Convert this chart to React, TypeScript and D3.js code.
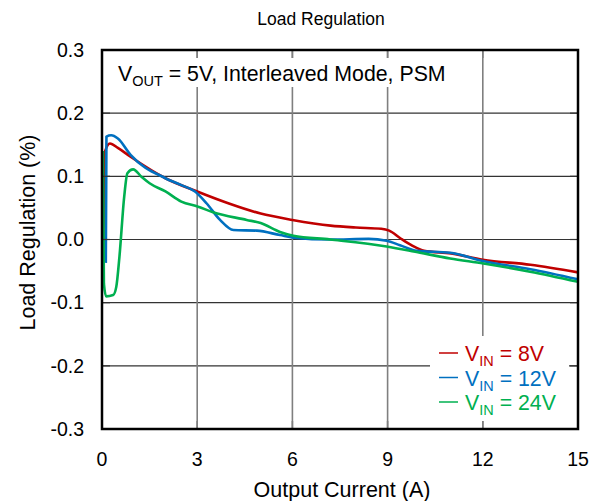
import React from "react";
import * as d3 from "d3";

const xTicks = [0, 3, 6, 9, 12, 15];
const yTicks = [0.3, 0.2, 0.1, 0.0, -0.1, -0.2, -0.3];
const yTickLabels = ["0.3", "0.2", "0.1", "0.0", "-0.1", "-0.2", "-0.3"];

const vin8: [number, number][] = [
  [0.03, -0.07], [0.1, 0.14], [0.25, 0.152], [0.5, 0.145], [0.9, 0.131], [2.0, 0.097],
  [3.0, 0.076], [4.0, 0.057], [5.0, 0.041], [6.0, 0.031], [7.2, 0.022], [8.0, 0.019],
  [8.8, 0.017], [9.05, 0.014], [9.4, 0.002], [9.75, -0.009], [10.15, -0.018], [11.0, -0.022],
  [12.0, -0.032], [13.5, -0.040], [15.0, -0.052],
];
const vin12: [number, number][] = [
  [0.12, -0.037], [0.14, 0.163], [0.29, 0.165], [0.5, 0.16], [0.9, 0.134], [2.0, 0.097],
  [2.5, 0.086], [2.93, 0.076], [3.3, 0.057], [3.72, 0.031], [4.14, 0.015], [4.88, 0.014], [5.61, 0.007],
  [6.03, 0.003], [7.2, 0.0], [8.4, 0.001], [8.97, -0.002], [9.39, -0.009], [9.92, -0.018],
  [10.97, -0.021], [12.0, -0.034], [13.5, -0.047], [15.0, -0.063],
];
const vin24: [number, number][] = [
  [0.03, 0.14], [0.06, -0.07], [0.13, -0.09], [0.35, -0.088], [0.45, -0.075], [0.55, -0.027],
  [0.7, 0.068], [0.8, 0.105], [0.98, 0.111], [1.25, 0.099], [1.5, 0.089], [2.0, 0.076],
  [2.5, 0.06], [3.03, 0.052], [3.5, 0.043], [4.56, 0.031], [5.0, 0.026], [5.61, 0.012],
  [6.03, 0.006], [7.19, 0.0], [8.97, -0.011], [10.02, -0.021], [10.97, -0.03], [12.02, -0.038],
  [13.49, -0.051], [15.0, -0.067],
];

const series = [
  { name: "8V", color: "#C00000", data: vin8 },
  { name: "12V", color: "#0070C0", data: vin12 },
  { name: "24V", color: "#00B050", data: vin24 },
];

const W = 590, H = 501;
const L = 102, R = 578, T = 50, B = 429;
const FONT = "Arial, 'Liberation Sans', sans-serif";

export default function App() {
  const x = d3.scaleLinear().domain([0, 15]).range([L, R]);
  const y = d3.scaleLinear().domain([-0.3, 0.3]).range([B, T]);
  const line = d3.line<[number, number]>().x(d => x(d[0])).y(d => y(d[1])).curve(d3.curveMonotoneX);
  const tick = 8;
  return (
    <svg width={W} height={H} style={{ position: "absolute", left: 0, top: 0, background: "#fff" }} fontFamily={FONT}>
      <rect x={0} y={0} width={W} height={H} fill="#fff" />
      {yTicks.slice(1, -1).map(v => (
        <line key={"gy" + v} x1={L} x2={R} y1={y(v)} y2={y(v)} stroke="#333" strokeWidth={1.2} />
      ))}
      {xTicks.slice(1, -1).map(v => (
        <line key={"gx" + v} x1={x(v)} x2={x(v)} y1={T} y2={B} stroke="#7f7f7f" strokeWidth={1.6} />
      ))}
      <rect x={L + 2} y={T + tick} width={360} height={29} fill="#fff" />
      {series.map(s => (
        <path key={s.name} d={line(s.data) || ""} fill="none" stroke={s.color} strokeWidth={2.6} strokeLinejoin="round" />
      ))}
      <rect x={430} y={336} width={139} height={85} fill="#fff" />
      {xTicks.slice(1, -1).map(v => (
        <g key={"tx" + v}>
          <line x1={x(v)} x2={x(v)} y1={T} y2={T + tick} stroke="#7f7f7f" strokeWidth={1.6} />
          <line x1={x(v)} x2={x(v)} y1={B} y2={B - tick} stroke="#7f7f7f" strokeWidth={1.6} />
        </g>
      ))}
      {yTicks.slice(1, -1).map(v => (
        <g key={"ty" + v}>
          <line x1={L} x2={L + tick} y1={y(v)} y2={y(v)} stroke="#333" strokeWidth={1.2} />
          <line x1={R} x2={R - tick} y1={y(v)} y2={y(v)} stroke="#333" strokeWidth={1.2} />
        </g>
      ))}
      <rect x={L} y={T} width={R - L} height={B - T} fill="none" stroke="#000" strokeWidth={2.5} />
      {yTicks.map((v, i) => (
        <text key={"yl" + v} x={L - 18} y={y(v)} dy="0.35em" textAnchor="end" fontSize={19.5} fill="#000">{yTickLabels[i]}</text>
      ))}
      {xTicks.map(v => (
        <text key={"xl" + v} x={x(v)} y={B + 30} dy="0.35em" textAnchor="middle" fontSize={19.5} fill="#000">{v}</text>
      ))}
      <text x={321} y={25} textAnchor="middle" fontSize={17.5} fill="#000">Load Regulation</text>
      <text x={342} y={497} textAnchor="middle" fontSize={21.5} fill="#000">Output Current (A)</text>
      <text transform={`translate(35,${(T + B) / 2 - 7}) rotate(-90)`} textAnchor="middle" fontSize={21.5} fill="#000">Load Regulation (%)</text>
      <text x={118} y={81} fontSize={21.3} fill="#000">
        V<tspan fontSize={14.5} dy={5}>OUT</tspan><tspan dy={-5}> = 5V, Interleaved Mode, PSM</tspan>
      </text>
      {series.map((s, i) => {
        const cy = 353 + i * 24.5;
        return (
          <g key={"lg" + s.name}>
            <line x1={439} x2={458} y1={cy} y2={cy} stroke={s.color} strokeWidth={1.5} />
            <text x={465} y={cy + 8} fontSize={21.3} fill={s.color}>
              V<tspan fontSize={14.5} dy={5}>IN</tspan><tspan dy={-5}>{" = " + s.name}</tspan>
            </text>
          </g>
        );
      })}
    </svg>
  );
}
